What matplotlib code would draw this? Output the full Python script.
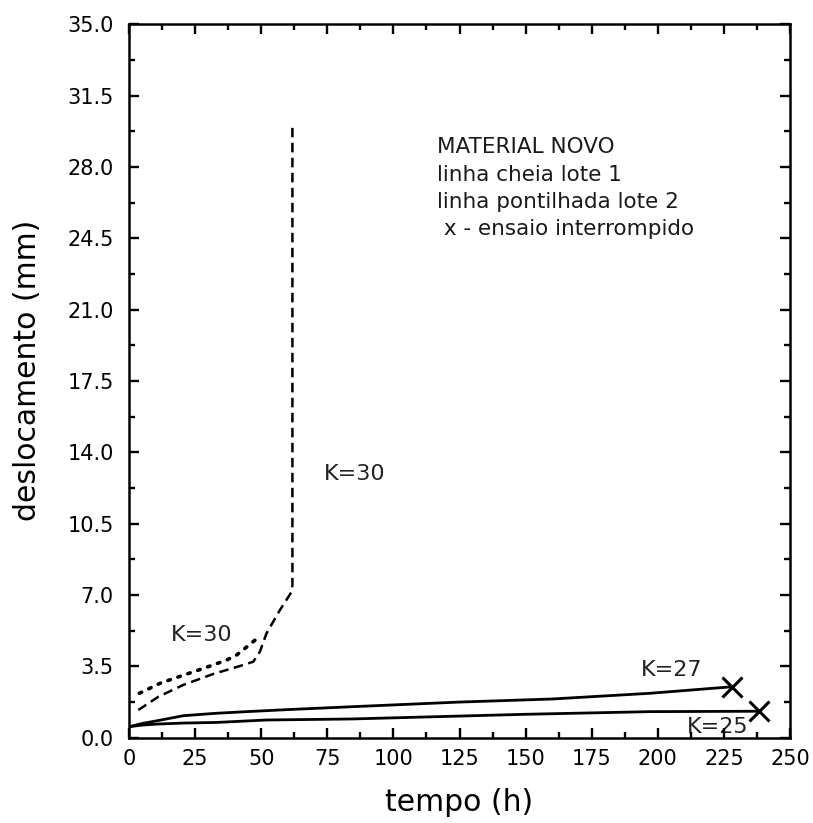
import matplotlib
matplotlib.use("Agg")
import matplotlib.pyplot as plt
from matplotlib.ticker import MultipleLocator, FormatStrFormatter

plt.rcParams['font.family'] = ['DejaVu Sans']

# Lote 1 (linha cheia)
t_k27 = [0, 5, 10.5, 20.5, 33, 44.5, 60, 84, 125, 160, 197, 228]
d_k27 = [0.54, 0.70, 0.83, 1.08, 1.20, 1.28, 1.38, 1.52, 1.75, 1.90, 2.18, 2.50]
t_k25 = [0, 5, 10.5, 20.5, 33, 52, 84, 150, 197, 238.4]
d_k25 = [0.54, 0.62, 0.67, 0.72, 0.75, 0.87, 0.92, 1.15, 1.28, 1.30]

# Lote 2 (linha pontilhada / tracejada)
t_dash = [3.5, 11.1, 20.5, 31.9, 42, 47, 49.5, 52, 57.1, 61.5, 61.8, 61.8]
d_dash = [1.36, 2.01, 2.59, 3.13, 3.52, 3.73, 4.22, 5.12, 6.27, 7.16, 7.5, 30.0]
t_dot = [3.9, 11.7, 19.9, 28.1, 36.9, 40.7, 43.9, 47.7]
d_dot = [2.18, 2.67, 3.04, 3.40, 3.81, 4.06, 4.39, 4.79]

x_ticks = [0, 25, 50, 75, 100, 125, 150, 175, 200, 225, 250]
y_ticks = [0.0, 3.5, 7.0, 10.5, 14.0, 17.5, 21.0, 24.5, 28.0, 31.5, 35.0]

notes = ["MATERIAL NOVO", "linha cheia lote 1", "linha pontilhada lote 2",
         " x - ensaio interrompido"]

fig = plt.figure(figsize=(8.13, 8.23), dpi=100)
ax = fig.add_axes([0.1587, 0.1036, 0.9717 - 0.1587, 0.9705 - 0.1036])

ax.plot(t_k27, d_k27, color='black', lw=2.0, solid_capstyle='round')
ax.plot(t_k25, d_k25, color='black', lw=2.0, solid_capstyle='round')
ax.plot([t_k27[-1]], [d_k27[-1]], marker='x', color='black', ms=14, mew=2.2)
ax.plot([t_k25[-1]], [d_k25[-1]], marker='x', color='black', ms=14, mew=2.2)

ax.plot(t_dash, d_dash, color='black', lw=1.8, ls=(0, (3.8, 2.2)))
ax.plot(t_dot, d_dot, color='black', lw=2.6, ls=(0, (0.7, 2.2)),
        dash_capstyle='round')

ax.text(27.6, 5.06, "K=30", fontsize=16, ha='center', va='center', color='#222222')
ax.text(85.5, 12.96, "K=30", fontsize=16, ha='center', va='center', color='#222222')
ax.text(205.3, 3.32, "K=27", fontsize=16, ha='center', va='center', color='#222222')
ax.text(222.6, 0.55, "K=25", fontsize=16, ha='center', va='center', color='#222222',
        zorder=0.5)

note_y = [28.68, 27.33, 26.0, 24.67]
for txt, yy in zip(notes, note_y):
    ax.text(116.5, yy, txt, fontsize=15.5, ha='left', va='baseline', color='#1a1a1a')

ax.set_xlim(0, 250)
ax.set_ylim(0, 35)
ax.set_xticks(x_ticks)
ax.set_yticks(y_ticks)
ax.xaxis.set_minor_locator(MultipleLocator(12.5))
ax.yaxis.set_minor_locator(MultipleLocator(1.75))
ax.yaxis.set_major_formatter(FormatStrFormatter('%.1f'))

ax.tick_params(which='both', direction='in', top=True, right=True,
               width=1.7, labelsize=15, colors='black')
ax.tick_params(which='major', length=7.5, pad=8)
ax.tick_params(axis='y', which='major', pad=11)
ax.tick_params(which='minor', length=4.5)
for sp in ax.spines.values():
    sp.set_linewidth(1.8)

ax.set_xlabel("tempo (h)", fontsize=21.5, labelpad=14)
ax.set_ylabel("deslocamento (mm)", fontsize=21.5)
ax.yaxis.set_label_coords(-0.132, 0.515)

fig.savefig("out.png", dpi=100)
